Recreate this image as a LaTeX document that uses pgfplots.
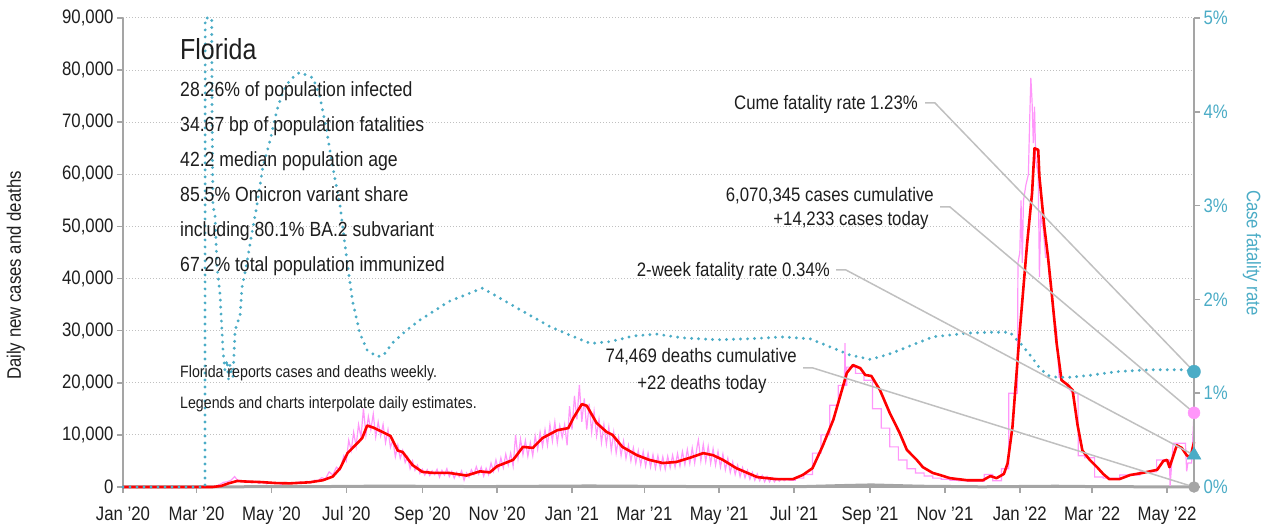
\documentclass[border=0pt]{standalone}
\usepackage{fontspec}
\setmainfont{Liberation Sans}[FakeStretch=0.86]
\usepackage{pgfplots}
\usepackage{pgfplotstable}
\pgfplotsset{compat=1.18}

\definecolor{cfr}{RGB}{75,172,198}
\definecolor{rawpink}{RGB}{255,150,250}
\definecolor{axgray}{RGB}{165,165,165}
\definecolor{leadgray}{RGB}{192,192,192}
\definecolor{txt}{RGB}{30,30,30}
\newcommand{\fs}[1]{\fontsize{#1}{#1}\selectfont}

% x = days since 1 Jan 2020
\pgfplotstableread{
x y
0 0
73 0
80 200
86 700
93 1150
100 1050
112 950
125 750
136 700
152 900
163 1300
171 2000
177 3600
183 6500
191 8400
195 9400
199 11800
204 11400
212 10500
218 9800
224 7000
228 6700
236 4200
244 2900
253 2700
266 2700
280 2200
291 3000
299 2800
305 4000
318 5200
326 7700
334 7500
342 9400
354 10900
363 11300
367 13200
374 15900
378 15600
386 12300
394 10600
399 10000
407 7700
419 6100
429 5200
440 4600
451 4800
462 5600
473 6500
481 6100
489 5200
500 3600
517 1900
533 1500
546 1500
554 2300
562 3600
570 7700
579 12900
586 18600
590 21900
595 23400
601 22800
605 21500
610 21300
617 18600
625 14200
633 10400
639 7100
647 5200
652 3800
660 2700
666 2300
674 1700
688 1300
701 1300
707 2100
712 1700
718 2500
721 4500
725 11500
731 30000
737 46800
741 56400
743 65000
746 64700
747 59500
751 49900
754 44100
757 37200
761 27600
765 20500
770 19600
774 18600
778 12000
782 7000
788 5200
794 3800
799 2500
804 1500
812 1500
821 2300
831 2700
843 3300
848 5000
851 5200
853 3800
859 8000
863 7500
867 6100
870 5600
873 8600
}\smoothed

\pgfplotstableread{
x y
0 0
73 0
76 200
79 500
82 900
85 1000
88 1300
91 2000
93 1400
96 1200
99 900
102 1200
105 800
108 1100
111 700
114 1000
117 600
120 900
123 700
126 800
129 500
132 900
135 600
138 800
141 700
144 1000
147 700
150 1100
153 800
156 1300
159 1200
162 1800
165 1500
168 2900
171 2300
174 3800
177 3300
180 6000
182 5000
184 9000
186 7000
188 10500
190 7800
192 12000
194 9500
196 15100
198 10000
200 13500
202 11000
204 14000
206 9600
208 12500
210 9800
212 12000
214 8500
216 11000
218 7600
220 9000
222 5800
224 8000
226 5500
228 7000
230 4700
232 5800
234 3500
236 5000
238 3200
240 4200
242 2600
244 3400
246 2300
248 3300
250 2200
252 3100
254 2400
256 3400
258 1900
260 3200
262 2300
264 3500
266 2000
268 3000
270 1700
272 2800
274 2000
276 3100
278 1300
280 2700
282 1900
284 3300
286 2400
288 3900
290 2500
292 3800
294 2100
296 3600
298 2400
300 4600
302 3000
304 5200
306 3300
308 5600
310 3700
312 6300
314 4200
316 6500
318 4000
320 10000
322 5500
324 9200
326 6200
328 8900
330 5900
332 8500
334 6000
336 9800
338 7200
340 10500
342 7800
344 11000
346 8000
348 12000
350 8800
352 12500
354 8500
356 11800
358 9500
360 12000
362 8000
364 15500
366 11000
368 17500
370 13000
372 19600
374 12500
376 17000
378 11000
380 16000
382 10500
384 14500
386 9800
388 13000
390 8500
392 12000
394 8200
396 11500
398 7000
400 10500
402 6500
404 9500
406 6000
408 8800
410 5500
412 8000
414 5000
416 7500
418 4600
420 7000
422 4200
424 6800
426 4000
428 6500
430 3800
432 6200
434 3600
436 6000
438 3500
440 5800
442 3400
444 5900
446 3700
448 6100
450 3800
452 6400
454 4000
456 6800
458 4300
460 7200
462 4500
464 7500
466 4600
468 7800
469 9000
471 5000
473 8200
475 4900
477 7800
479 4500
481 7300
483 4200
485 6800
487 3800
489 6300
491 3300
493 5500
495 2800
497 4800
499 2400
501 4200
503 2000
505 3700
507 1800
509 3200
511 1500
513 2800
515 1300
517 2500
519 1200
521 2200
523 1000
525 2000
527 1000
529 1800
531 1000
533 1700
535 1100
537 1600
539 1200
541 1500
543 1300
548 1300
548 1700
555 1700
555 2400
562 2400
562 6500
569 6500
569 10000
576 10000
576 15700
583 15700
583 19500
588 19500
588.5 27600
589 19500
590 19500
590 23000
597 23000
597 21800
604 21800
604 20500
611 20500
611 15000
618 15000
618 11300
625 11300
625 7700
632 7700
632 5200
639 5200
639 3500
646 3500
646 2700
653 2700
653 2100
660 2100
660 1700
667 1700
667 1500
674 1500
674 1300
681 1300
681 1200
688 1200
688 1100
702 1100
702 2400
709 2400
709 1200
716 1200
716 3500
722 3500
722 18000
729 18000
729.5 43000
731 45000
732 55000
733 43000
734 55000
736 58000
738 60000
739 70000
740 78500
741 74000
742 66000
743 73000
744 62700
746 60000
747 40300
748 52000
750 49900
752 44100
754 44100
755 40300
757 37200
759 32600
761 30000
763 21100
766 20500
770 19200
774 18000
778.5 18000
778.6 6000
784 6000
784 5600
792 5600
792 1900
799 1900
799 1700
812.5 1700
812.5 2300
829 2300
829 2900
842.5 2900
842.5 5200
853 5200
853.5 200
856 8400
866 8400
867 3000
868 4600
871 4600
873 14233
}\raw

\pgfplotstableread{
x y
0 0
75 0
100 50
150 60
200 150
220 180
260 100
300 90
380 200
450 100
550 50
590 300
610 400
650 150
700 40
760 150
800 60
873 22
}\deaths

\pgfplotstableread{
x y
0 0
66.8 0
67.0 5
72.3 5
72.6 4.0
73.3 3.0
75.0 2.9
76.6 2.35
79.0 2.07
81.5 1.46
83 1.25
84.8 1.35
86 1.15
87.2 1.30
88.5 1.20
89.6 1.17
91.3 1.65
92.9 1.75
95.3 1.80
97.0 2.13
101 2.39
105 2.70
109 2.99
114 3.41
120 3.70
125.5 4.02
130 4.20
136 4.34
144 4.42
150 4.39
155 4.36
160.5 4.16
166 3.80
171 3.41
177 2.99
182.5 2.42
187 1.99
193 1.64
199 1.46
207 1.39
212 1.40
220 1.54
231 1.67
242 1.78
266 1.98
293 2.12
321 1.91
348 1.71
364 1.62
381 1.53
397 1.55
416 1.61
435 1.63
456 1.59
484 1.57
511 1.58
538 1.60
560 1.58
579 1.48
592 1.41
609 1.36
623 1.41
633 1.46
660 1.60
688 1.64
707 1.65
723 1.65
728.5 1.57
733 1.51
741 1.38
747 1.27
754 1.19
761 1.17
772 1.17
788 1.19
810 1.23
837 1.25
864 1.25
873 1.23
}\cfrtab

\pgfplotsset{
  /pgf/number format/assume math mode=true,
  common/.style={
    at={(0pt,0pt)}, anchor=south west,
    width=1071pt, height=469pt, scale only axis,
    xmin=0, xmax=873, clip=false,
    tick align=outside, major tick length=6pt,
    tick style={axgray, line width=1.5pt},
    axis line style={-, axgray, line width=2pt},
    tick label style={font=\fs{19.5}},
    label style={font=\fs{19.5}},
  },
}

\begin{document}
\begin{tikzpicture}
\begin{axis}[common,
  ymin=0, ymax=90000,
  axis y line*=left, axis x line*=bottom,
  xtick={0,60,121,182,244,305,366,425,486,547,609,670,731,790,851},
  xticklabels={Jan '20,Mar '20,May '20,Jul '20,Sep '20,Nov '20,Jan '21,Mar '21,May '21,Jul '21,Sep '21,Nov '21,Jan '22,Mar '22,May '22},
  xticklabel style={yshift=-10pt},
  ytick={0,10000,...,90000},
  scaled y ticks=false,
  yticklabel style={/pgf/number format/.cd, fixed, 1000 sep={,}},
  ticklabel style={txt},
  ymajorgrids, grid style={leadgray, line width=1pt, dash pattern=on 1pt off 2pt},
  ylabel={Daily new cases and deaths},
  ylabel style={txt, at={(axis description cs:-0.1,0.451)}, anchor=center},
]
  \addplot[axgray, line width=3pt] table {\deaths};
  \addplot[rawpink, line width=1.2pt] table {\raw};
  \addplot[red, line width=2.6pt, line join=round] table {\smoothed};
\end{axis}
\begin{axis}[common,
  ymin=0, ymax=5,
  axis y line*=right, axis x line=none,
  ytick={0,1,2,3,4,5},
  yticklabel={\pgfmathprintnumber{\tick}\%},
  yticklabel style={cfr},
  ylabel={Case fatality rate},
  ylabel style={cfr, rotate=180, at={(axis description cs:1.054,0.499)}, anchor=center},
]
  \addplot[cfr, line width=3.2pt, line cap=round, dash pattern=on 0pt off 7pt] table {\cfrtab};
  \draw[leadgray, line width=1.5pt] (802pt,384pt) -- (812pt,384pt) -- (1071pt,115.4pt);
  \draw[leadgray, line width=1.5pt] (817pt,280pt) -- (827pt,280pt) -- (1071pt,74.2pt);
  \draw[leadgray, line width=1.5pt] (713pt,217pt) -- (723pt,217pt) -- (1071pt,31.9pt);
  \draw[leadgray, line width=1.5pt] (680pt,119pt) -- (690pt,119pt) -- (1071pt,0pt);
  \addplot[only marks, mark=*, mark size=5.5pt, axgray] coordinates {(873,0)};
  \addplot[only marks, mark=*, mark size=6pt, rawpink] coordinates {(873,0.7907)};
  \addplot[only marks, mark=triangle*, mark size=8pt, cfr] coordinates {(873,0.34)};
  \addplot[only marks, mark=*, mark size=6.5pt, cfr] coordinates {(873,1.23)};
\end{axis}

\begin{scope}[every node/.style={text=txt, inner sep=0pt}]
  \node[anchor=base west, font=\fs{29}] at (57pt,427pt) {Florida};
  \node[anchor=base west, font=\fs{20.5}] at (57pt,390pt) {28.26\% of population infected};
  \node[anchor=base west, font=\fs{20.5}] at (57pt,355pt) {34.67 bp of population fatalities};
  \node[anchor=base west, font=\fs{20.5}] at (57pt,320pt) {42.2 median population age};
  \node[anchor=base west, font=\fs{20.5}] at (57pt,285pt) {85.5\% Omicron variant share};
  \node[anchor=base west, font=\fs{20.5}] at (57pt,250pt) {including 80.1\% BA.2 subvariant};
  \node[anchor=base west, font=\fs{20.5}] at (57pt,215pt) {67.2\% total population immunized};
  \node[anchor=base west, font=\fs{16.5}] at (57pt,109pt) {Florida reports cases and deaths weekly.};
  \node[anchor=base west, font=\fs{16.5}] at (57pt,78pt) {Legends and charts interpolate daily estimates.};
  \node[anchor=base east, font=\fs{19.5}] at (795pt,377pt) {Cume fatality rate 1.23\%};
  \node[anchor=base east, font=\fs{19.5}] at (811pt,285pt) {6,070,345 cases cumulative};
  \node[anchor=base, font=\fs{19.5}] at (728pt,261pt) {+14,233 cases today};
  \node[anchor=base east, font=\fs{19.5}] at (707pt,210pt) {2-week fatality rate 0.34\%};
  \node[anchor=base east, font=\fs{19.5}] at (674pt,124pt) {74,469 deaths cumulative};
  \node[anchor=base, font=\fs{19.5}] at (579pt,97pt) {+22 deaths today};
\end{scope}

\pgfresetboundingbox
\path (-123pt,-42pt) rectangle (1158pt,487pt);
\end{tikzpicture}
\end{document}
